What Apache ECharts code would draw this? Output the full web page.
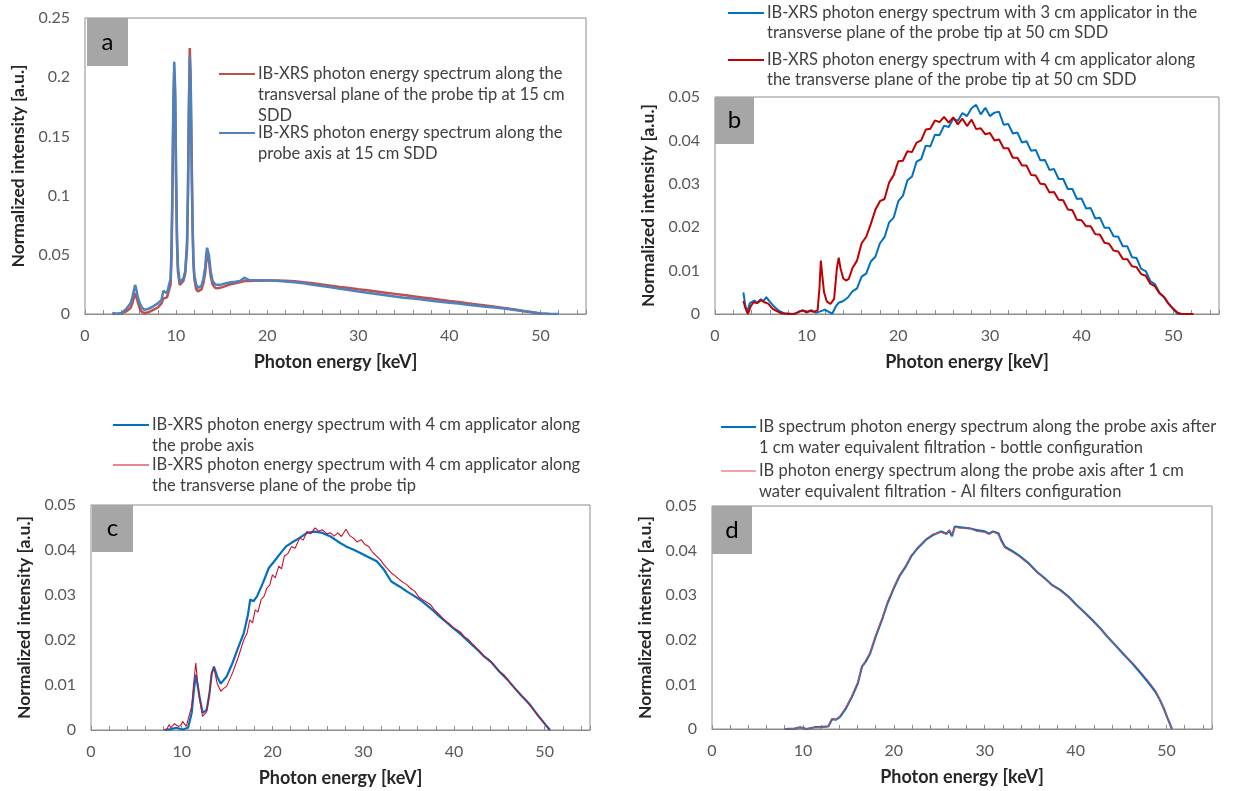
<!DOCTYPE html>
<html>
<head>
<meta charset="utf-8">
<script src="https://cdn.jsdelivr.net/npm/echarts@6/dist/echarts.min.js"></script>
<style>html,body{margin:0;padding:0;background:#fff}#c{width:1240px;height:791px}</style>
</head>
<body>
<div id="c"></div>
<script>
// ---------- Panel a ----------
const aEnergy = [3.0,3.5,4.0,4.5,5.0,5.2,5.4,5.5,5.6,5.8,6.0,6.2,6.5,7.0,7.5,8.0,8.4,8.6,8.8,9.0,9.2,9.4,9.5,9.6,9.7,9.8,9.9,10.0,10.1,10.2,10.4,10.6,10.8,11.0,11.2,11.3,11.4,11.5,11.6,11.7,11.8,11.9,12.0,12.2,12.4,12.6,12.8,13.0,13.2,13.3,13.4,13.5,13.6,13.8,14.0,14.3,14.6,15,15.5,16,16.5,17,17.5,18,18.5,19,20,21,22,23,24,25,26,27,28,29,30,31,32,33,34,35,36,37,38,39,40,41,42,43,44,45,46,47,48,49,50,51,52];
const aTransversal = [0,0,0.0005,0.002,0.005,0.009,0.015,0.0175,0.016,0.01,0.005,0.002,0.0008,0.0015,0.0035,0.0055,0.009,0.013,0.0145,0.014,0.0155,0.025,0.05,0.1,0.17,0.205,0.18,0.11,0.06,0.036,0.0245,0.025,0.028,0.034,0.055,0.1,0.17,0.2246,0.2,0.14,0.08,0.045,0.03,0.021,0.019,0.0195,0.021,0.026,0.035,0.044,0.05,0.0513,0.045,0.032,0.025,0.022,0.0217,0.0225,0.0238,0.0252,0.026,0.0268,0.0278,0.0278,0.028,0.028,0.0282,0.0282,0.028,0.0276,0.0268,0.026,0.025,0.0238,0.0228,0.0219,0.0209,0.02,0.019,0.018,0.017,0.016,0.015,0.014,0.013,0.012,0.011,0.0101,0.009,0.0081,0.0071,0.0062,0.0051,0.004,0.0027,0.0015,0.0004,0,null];
const aAxis = [0.0008,0.0002,0.0008,0.004,0.009,0.014,0.021,0.0245,0.022,0.014,0.0095,0.006,0.0035,0.0045,0.0065,0.009,0.012,0.0195,0.018,0.0175,0.019,0.03,0.055,0.11,0.18,0.213,0.19,0.12,0.065,0.04,0.0265,0.027,0.03,0.036,0.06,0.1,0.17,0.2176,0.19,0.13,0.075,0.045,0.033,0.025,0.022,0.022,0.024,0.03,0.04,0.05,0.056,0.057,0.05,0.036,0.028,0.025,0.0245,0.025,0.026,0.0268,0.0272,0.0278,0.0305,0.0288,0.0285,0.0285,0.0283,0.028,0.0275,0.0268,0.026,0.0247,0.0236,0.0225,0.0213,0.0202,0.019,0.018,0.0168,0.0158,0.0148,0.0138,0.013,0.0122,0.0112,0.0104,0.0096,0.0088,0.0078,0.007,0.0062,0.0055,0.0046,0.0036,0.0026,0.0016,0.0005,0,0];

// ---------- Panel b ----------
const b3Energy = [3.1,3.3,3.5,3.8,4.0,4.3,4.6,5.0,5.3,5.6,6.0,6.5,7.0,7.5,8.0,8.5,9.0,9.5,10.0,10.5,11.0,11.5,12.0,12.5,12.8,13.2,13.5,14.0,14.5,15.0,15.5,16.0,16.5,17.0,17.5,18.0,18.5,19.0,19.5,20.0,20.5,21.0,21.5,22.0,22.5,23.0,23.5,24.0,24.5,25.0,25.5,26.0,26.5,27.0,27.5,28.0,28.5,29.0,29.5,30.0,30.5,31.0,31.5,32.0,32.5,33.0,33.5,34.0,34.5,35.0,35.5,36.0,36.5,37.0,37.5,38.0,38.5,39.0,39.5,40.0,40.5,41.0,41.5,42.0,42.5,43.0,43.5,44.0,44.5,45.0,45.5,46.0,46.5,47.0,47.5,48.0,48.5,49.0,49.5,50.0,50.5,52.2];
const b3Values = [0.005,0.002,0.0004,0.0025,0.0022,0.0031,0.0026,0.0034,0.003,0.0039,0.0028,0.0016,0.0007,0.0002,0.0001,0,0.0003,0.0008,0.0005,0.0009,0.0003,0.0006,0.001,0.0004,0.0001,0.0018,0.0026,0.003,0.0038,0.0052,0.0059,0.0086,0.0093,0.0121,0.0132,0.0163,0.0177,0.0211,0.0222,0.026,0.0272,0.0308,0.0317,0.0351,0.0357,0.0388,0.0386,0.0413,0.0412,0.0434,0.0431,0.045,0.0445,0.0463,0.0456,0.0474,0.0482,0.046,0.0475,0.0456,0.0464,0.0466,0.0436,0.0438,0.0416,0.0418,0.0395,0.0398,0.0376,0.0378,0.0354,0.0355,0.0332,0.0334,0.0311,0.0311,0.0288,0.0288,0.0265,0.0266,0.0243,0.0244,0.022,0.0222,0.0199,0.0199,0.0179,0.0178,0.0156,0.0156,0.0131,0.0129,0.0104,0.0099,0.0076,0.0069,0.0049,0.0039,0.0023,0.0012,0,0];
const b4Energy = [3.1,3.3,3.6,3.9,4.2,4.6,5.0,5.4,5.8,6.3,6.8,7.2,8.0,8.7,9.2,9.6,10.0,10.4,10.8,11.2,11.4,11.55,11.7,11.9,12.2,12.6,13.0,13.3,13.5,13.7,14.0,14.3,14.6,15.0,15.5,16.0,16.5,17.0,17.5,18.0,18.5,19.0,19.5,20.0,20.5,21.0,21.5,22.0,22.5,23.0,23.5,24.0,24.5,25.0,25.5,26.0,26.5,27.0,27.5,28.0,28.5,29.0,29.5,30.0,30.5,31.0,31.5,32.0,32.5,33.0,33.5,34.0,34.5,35.0,35.5,36.0,36.5,37.0,37.5,38.0,38.5,39.0,39.5,40.0,40.5,41.0,41.5,42.0,42.5,43.0,43.5,44.0,44.5,45.0,45.5,46.0,46.5,47.0,47.5,48.0,48.5,49.0,49.5,50.0,50.5,50.9,52.2];
const b4Values = [0.003,0.0015,0,0.0018,0.0027,0.0025,0.0032,0.0027,0.0024,0.0012,0.0006,0.0002,0,0,0.0006,0.0008,0.0004,0.0007,0.0005,0.0009,0.006,0.0123,0.009,0.005,0.0029,0.0023,0.0035,0.0105,0.013,0.0105,0.0082,0.0077,0.0081,0.0106,0.0123,0.0163,0.0178,0.0207,0.024,0.026,0.0265,0.0303,0.032,0.0352,0.0353,0.0375,0.0373,0.0395,0.04,0.0425,0.0427,0.0446,0.0442,0.0454,0.0441,0.0453,0.0437,0.045,0.0433,0.0448,0.0426,0.0428,0.0414,0.0417,0.04,0.0402,0.0382,0.0382,0.036,0.036,0.0342,0.0342,0.032,0.0319,0.03,0.0299,0.028,0.0281,0.0263,0.0262,0.0241,0.0239,0.0217,0.0216,0.0202,0.0202,0.0184,0.0183,0.0164,0.0162,0.0146,0.0144,0.0127,0.0126,0.011,0.0108,0.0092,0.0088,0.007,0.0064,0.0048,0.0039,0.0024,0.0012,0.0003,0,0];

// ---------- Panel c ----------
const cAxisEnergy = [8.2,8.8,9.4,10.1,10.7,11.1,11.35,11.55,11.75,11.95,12.3,12.75,13.05,13.3,13.55,13.9,14.3,14.95,15.6,16.2,16.85,17.3,17.55,17.9,18.3,18.95,19.6,20.2,20.9,21.5,22.1,23.0,23.8,24.7,25.5,26.4,27.2,28.1,28.9,29.8,30.6,31.5,32.3,33.1,34.0,34.8,35.7,36.5,37.4,38.2,39.1,39.9,40.8,41.6,42.5,43.3,44.2,45.0,45.9,46.7,47.5,48.4,49.2,50.1,50.6];
const cAxisValues = [0,0.0002,0.0005,0.0001,0.0005,0.0038,0.009,0.0123,0.01,0.0075,0.0038,0.0045,0.008,0.0125,0.0141,0.0119,0.0103,0.0119,0.0149,0.0182,0.0216,0.0256,0.029,0.0286,0.0297,0.0327,0.036,0.0375,0.0393,0.0408,0.0416,0.0427,0.0438,0.0441,0.0438,0.043,0.0419,0.0408,0.0401,0.0392,0.0384,0.0375,0.0356,0.033,0.0319,0.0308,0.0297,0.0286,0.0271,0.0256,0.0241,0.0227,0.0212,0.0197,0.018,0.0164,0.0149,0.013,0.0112,0.0093,0.0075,0.0056,0.0034,0.0012,0];
const cTransEnergy = [8.0,8.4,8.6,8.8,9.0,9.2,9.4,9.6,9.9,10.1,10.3,10.5,10.7,11.1,11.35,11.55,11.75,11.95,12.3,12.75,13.05,13.3,13.55,13.9,14.3,14.6,14.95,15.6,16.2,16.85,17.2,17.5,17.8,18.1,18.4,18.75,19.1,19.4,19.7,20.0,20.3,20.7,21.0,21.3,21.7,22.1,22.5,23.0,23.4,23.8,24.2,24.7,25.1,25.5,26.0,26.4,26.8,27.2,27.6,28.1,28.5,28.9,29.3,29.8,30.2,30.6,31.0,31.5,31.9,32.3,32.7,33.1,33.5,34.0,34.4,34.8,35.2,35.7,36.1,36.5,37.0,37.4,37.8,38.2,38.6,39.1,39.5,39.9,40.4,40.8,41.2,41.6,42.1,42.5,42.9,43.3,43.8,44.2,44.6,45.0,45.5,45.9,46.3,46.7,47.1,47.5,48.0,48.4,48.8,49.2,49.6,50.1,50.5];
const cTransValues = [0,0.0003,0.0012,0.0005,0.0004,0.0014,0.0016,0.0008,0.001,0.0019,0.0017,0.0008,0.0012,0.0053,0.011,0.0149,0.0105,0.0072,0.003,0.0041,0.008,0.0127,0.0138,0.0104,0.0086,0.0092,0.0097,0.0127,0.016,0.0201,0.0215,0.0245,0.0238,0.0267,0.0262,0.029,0.0298,0.0316,0.0322,0.0345,0.0338,0.0364,0.0358,0.0386,0.0392,0.0408,0.0404,0.0427,0.0422,0.0441,0.0436,0.0449,0.0442,0.0445,0.0436,0.0438,0.0431,0.0438,0.043,0.0446,0.0432,0.0427,0.0418,0.0423,0.0412,0.0408,0.0396,0.0386,0.0378,0.0367,0.0358,0.0349,0.0343,0.0334,0.0328,0.0323,0.0315,0.0308,0.0296,0.029,0.0284,0.0279,0.0268,0.026,0.0252,0.0241,0.0236,0.0227,0.0222,0.0216,0.0206,0.0201,0.019,0.0182,0.0174,0.0164,0.0158,0.0149,0.014,0.013,0.0123,0.0113,0.0102,0.0093,0.0085,0.0075,0.0066,0.0054,0.0044,0.0034,0.0024,0.001,0];

// ---------- Panel d ----------
const dEnergy = [8.0,9.1,9.7,10.4,11.3,11.9,12.8,13.2,13.65,14.1,14.75,15.4,16.05,16.5,16.9,17.4,18.0,18.7,19.3,20.0,20.6,21.3,21.9,22.6,23.5,24.3,25.2,25.8,26.1,26.4,26.7,27.4,28.3,29.1,30.0,30.5,30.9,31.5,31.8,32.2,33.1,33.9,34.8,35.7,36.6,37.4,38.3,39.2,40.1,40.9,41.8,42.7,43.5,44.4,45.3,46.2,47.0,47.9,48.8,49.3,49.7,50.1,50.6];
const dBottle = [0,0.0001,0.0004,0,0.0004,0.0004,0.0006,0.0022,0.0021,0.0028,0.0047,0.0073,0.0103,0.014,0.0151,0.017,0.0207,0.0245,0.0282,0.0316,0.0342,0.0364,0.0387,0.0405,0.0424,0.0435,0.0443,0.0438,0.0445,0.0432,0.0454,0.0452,0.045,0.0446,0.0443,0.0438,0.0443,0.0439,0.0424,0.0409,0.0398,0.0387,0.0372,0.0353,0.0338,0.0323,0.0312,0.0297,0.0278,0.0263,0.0245,0.0226,0.0207,0.0187,0.0167,0.0148,0.0129,0.0107,0.0083,0.0064,0.0046,0.0025,0];
const dAlFilters = [0,0.0001,0.0004,0,0.0004,0.0003,0.0006,0.0024,0.002,0.003,0.0049,0.0075,0.0106,0.0138,0.0154,0.0172,0.021,0.0248,0.0285,0.0318,0.0345,0.0366,0.0389,0.0406,0.0425,0.0437,0.0441,0.0436,0.0447,0.0436,0.0452,0.045,0.0451,0.0443,0.0441,0.0436,0.0442,0.0436,0.0421,0.0406,0.0396,0.0385,0.037,0.0352,0.0336,0.0322,0.031,0.0295,0.0276,0.0261,0.0243,0.0225,0.0206,0.0188,0.0169,0.015,0.0132,0.011,0.0086,0.0064,0.0046,0.0024,0];

// ---------- Text ----------
const xTickLabels = ['0','10','20','30','40','50'];
const xTitle = 'Photon energy [keV]';
const yTitle = 'Normalized intensity [a.u.]';
const panelLetters = ['a','b','c','d'];
const legendA = ['IB-XRS photon energy spectrum along the\ntransversal plane of the probe tip at 15 cm\nSDD','IB-XRS photon energy spectrum along the\nprobe axis at 15 cm SDD'];
const legendB = ['IB-XRS photon energy spectrum with 3 cm applicator in the\ntransverse plane of the probe tip at 50 cm SDD','IB-XRS photon energy spectrum with 4 cm applicator along\nthe transverse plane of the probe tip at 50 cm SDD'];
const legendC = ['IB-XRS photon energy spectrum with 4 cm applicator along\nthe probe axis','IB-XRS photon energy spectrum with 4 cm applicator along\nthe transverse plane of the probe tip'];
const legendD = ['IB spectrum photon energy spectrum along the probe axis after\n1 cm water equivalent filtration - bottle configuration','IB photon energy spectrum along the probe axis after 1 cm\nwater equivalent filtration - Al filters configuration'];

const FONT = 'Lato, "Open Sans", sans-serif';
const zip = (xs, ys) => xs.map((x, i) => [x, ys[i]]);

const grids = [
  {left: 85, right: 654, top: 18, bottom: 477},
  {left: 715, right: 21, top: 97, bottom: 477},
  {left: 91, right: 650, top: 505, bottom: 61},
  {left: 712, right: 28, top: 506, bottom: 62}
].map(g => Object.assign(g, {show: true, borderColor: '#8c8c8c', borderWidth: 1, backgroundColor: 'transparent'}));

const xAxes = grids.map((g, i) => ({
  type: 'value', gridIndex: i, min: 0, max: 55, interval: 2,
  name: xTitle, nameLocation: 'middle', nameGap: 39,
  nameTextStyle: {fontFamily: FONT, fontSize: 18, fontWeight: 'bold', color: '#262626'},
  axisLine: {show: true, lineStyle: {color: '#8c8c8c'}},
  axisTick: {show: true, inside: true, length: 4, lineStyle: {color: '#8c8c8c'}},
  splitLine: {show: false},
  axisLabel: {
    margin: 14, fontFamily: FONT, fontSize: 16, color: '#595959',
    formatter: v => xTickLabels.indexOf(String(v)) >= 0 ? String(v) : ''
  }
}));

const yMax = [0.25, 0.05, 0.05, 0.05];
const yInt = [0.05, 0.01, 0.01, 0.01];
const yAxes = grids.map((g, i) => ({
  type: 'value', gridIndex: i, min: 0, max: yMax[i], interval: yInt[i],
  name: yTitle, nameLocation: 'middle', nameGap: 58,
  nameTextStyle: {fontFamily: FONT, fontSize: 17.5, fontWeight: 'bold', color: '#262626'},
  axisLine: {show: false}, axisTick: {show: false}, splitLine: {show: false},
  axisLabel: {margin: 15, fontFamily: FONT, fontSize: 16, color: '#595959'}
}));

const line = (name, data, i, color, width) => ({
  name, type: 'line', xAxisIndex: i, yAxisIndex: i, data, showSymbol: false, symbol: 'none',
  lineStyle: {color, width}, itemStyle: {color}, silent: true, animation: false, connectNulls: false
});

const series = [
  line('a-transversal', zip(aEnergy, aTransversal), 0, '#c0504d', 2.5),
  line('a-axis', zip(aEnergy, aAxis), 0, '#4f81bd', 2.5),
  line('b-3cm', zip(b3Energy, b3Values), 1, '#0070c0', 2),
  line('b-4cm', zip(b4Energy, b4Values), 1, '#c00000', 2),
  line('c-axis', zip(cAxisEnergy, cAxisValues), 2, '#0070c0', 2.2),
  line('c-trans', zip(cTransEnergy, cTransValues), 2, '#c8102e', 1.1),
  line('d-bottle', zip(dEnergy, dBottle), 3, '#0070c0', 2.2),
  line('d-al', zip(dEnergy, dAlFilters), 3, '#e8474c', 1)
];

// letter boxes and legends
const boxes = [[87,18,41,48],[715,97,39,47],[92,505,41,47],[712,506,40,48]];
const graphic = [];
boxes.forEach((b, i) => {
  graphic.push({type: 'rect', shape: {x: b[0], y: b[1], width: b[2], height: b[3]}, style: {fill: '#a6a6a6'}, z: 10});
  graphic.push({type: 'text', x: b[0] + b[2] / 2, y: b[1] + b[3] / 2, style: {text: panelLetters[i], fill: '#000', font: '24px ' + FONT, align: 'center', verticalAlign: 'middle'}, z: 11});
});
function legendEntry(x1, x2, y, tx, text, color, width, lh) {
  graphic.push({type: 'line', shape: {x1, y1: y, x2, y2: y}, style: {stroke: color, lineWidth: width}, z: 10});
  graphic.push({type: 'text', x: tx, y: y - lh / 2, style: {text, fill: '#404040', font: '16.5px ' + FONT, lineHeight: lh, verticalAlign: 'top'}, z: 10});
}
legendEntry(219, 255, 74, 258, legendA[0], '#c0504d', 2, 21);
legendEntry(219, 255, 133, 258, legendA[1], '#4f81bd', 2, 21);
legendEntry(728, 764, 13, 767, legendB[0], '#0070c0', 2, 20);
legendEntry(728, 764, 60, 767, legendB[1], '#c00000', 2, 20);
legendEntry(113, 149, 425, 152, legendC[0], '#0070c0', 2, 21);
legendEntry(113, 149, 465, 152, legendC[1], '#c8102e', 1.2, 21);
legendEntry(721, 756, 427, 759, legendD[0], '#0070c0', 2, 21);
legendEntry(721, 756, 471, 759, legendD[1], '#e8474c', 1, 21);

const chart = echarts.init(document.getElementById('c'), null, {renderer: 'canvas'});
chart.setOption({
  animation: false,
  backgroundColor: '#ffffff',
  grid: grids, xAxis: xAxes, yAxis: yAxes, series, graphic
});
</script>
</body>
</html>
